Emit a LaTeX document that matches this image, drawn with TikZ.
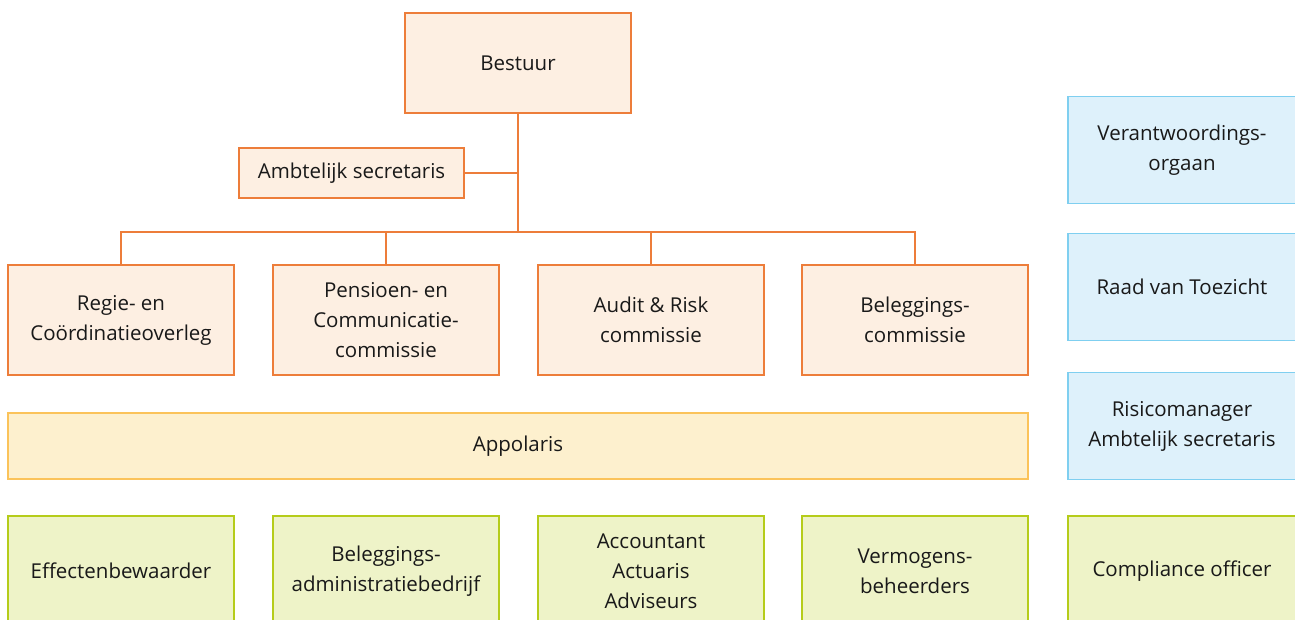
\documentclass[tikz,border=0pt]{standalone}
\usepackage{fontspec}
\setmainfont{Open Sans}
\begin{document}
\begin{tikzpicture}[x=1pt,y=-1pt,
  base/.style={draw,line width=1.6pt,align=center,inner sep=0pt,font=\fontsize{20.5}{30}\selectfont,text=black!90},
  org/.style={base,draw={rgb,255:red,237;green,125;blue,58},fill={rgb,255:red,253;green,239;blue,226}},
  blu/.style={base,draw={rgb,255:red,127;green,207;blue,240},fill={rgb,255:red,222;green,241;blue,251}},
  yel/.style={base,draw={rgb,255:red,251;green,195;blue,90},fill={rgb,255:red,253;green,240;blue,206}},
  grn/.style={base,draw={rgb,255:red,181;green,204;blue,26},fill={rgb,255:red,238;green,243;blue,200}},
  conn/.style={draw={rgb,255:red,237;green,125;blue,58},line width=1.6pt}]
\useasboundingbox (0,0) rectangle (1295,619);
\clip (0,0) rectangle (1295,619);
\node[org,minimum width=226,minimum height=100] (bestuur) at (518,63) {Bestuur};
\node[org,minimum width=225,minimum height=50] (amb) at (351.5,173) {Ambtelijk secretaris};
\node[org,minimum width=226,minimum height=110] (c1) at (121,320) {Regie- en\\Coördinatieoverleg};
\node[org,minimum width=226,minimum height=110] (c2) at (386,320) {Pensioen- en\\Communicatie-\\commissie};
\node[org,minimum width=226,minimum height=110] (c3) at (651,320) {Audit \& Risk\\commissie};
\node[org,minimum width=226,minimum height=110] (c4) at (915,320) {Beleggings-\\commissie};
\coordinate (bus) at (518,232);
\coordinate (ambj) at (518,173);
\draw[conn] (bestuur.south) -- (bus);
\draw[conn] (amb.east) -- (ambj);
\draw[conn] (c1.north) |- (bus) -| (c4.north);
\draw[conn] (c2.north) -- (c2.north |- bus);
\draw[conn] (c3.north) -- (c3.north |- bus);
\node[yel,minimum width=1020,minimum height=66] (app) at (518,446) {Appolaris};
\node[grn,minimum width=226,minimum height=110] (g1) at (121,571) {Effectenbewaarder};
\node[grn,minimum width=226,minimum height=110] (g2) at (386,571) {Beleggings-\\administratiebedrijf};
\node[grn,minimum width=226,minimum height=110] (g3) at (651,571) {Accountant\\Actuaris\\Adviseurs};
\node[grn,minimum width=226,minimum height=110] (g4) at (915,571) {Vermogens-\\beheerders};
\node[blu,minimum width=228,minimum height=107] (r1) at (1182,150) {Verantwoordings-\\orgaan};
\node[blu,minimum width=228,minimum height=107] (r2) at (1182,287) {Raad van Toezicht};
\node[blu,minimum width=228,minimum height=107] (r3) at (1182,426) {Risicomanager\\Ambtelijk secretaris};
\node[grn,minimum width=228,minimum height=110] (r4) at (1182,571) {Compliance officer};
\end{tikzpicture}
\end{document}
